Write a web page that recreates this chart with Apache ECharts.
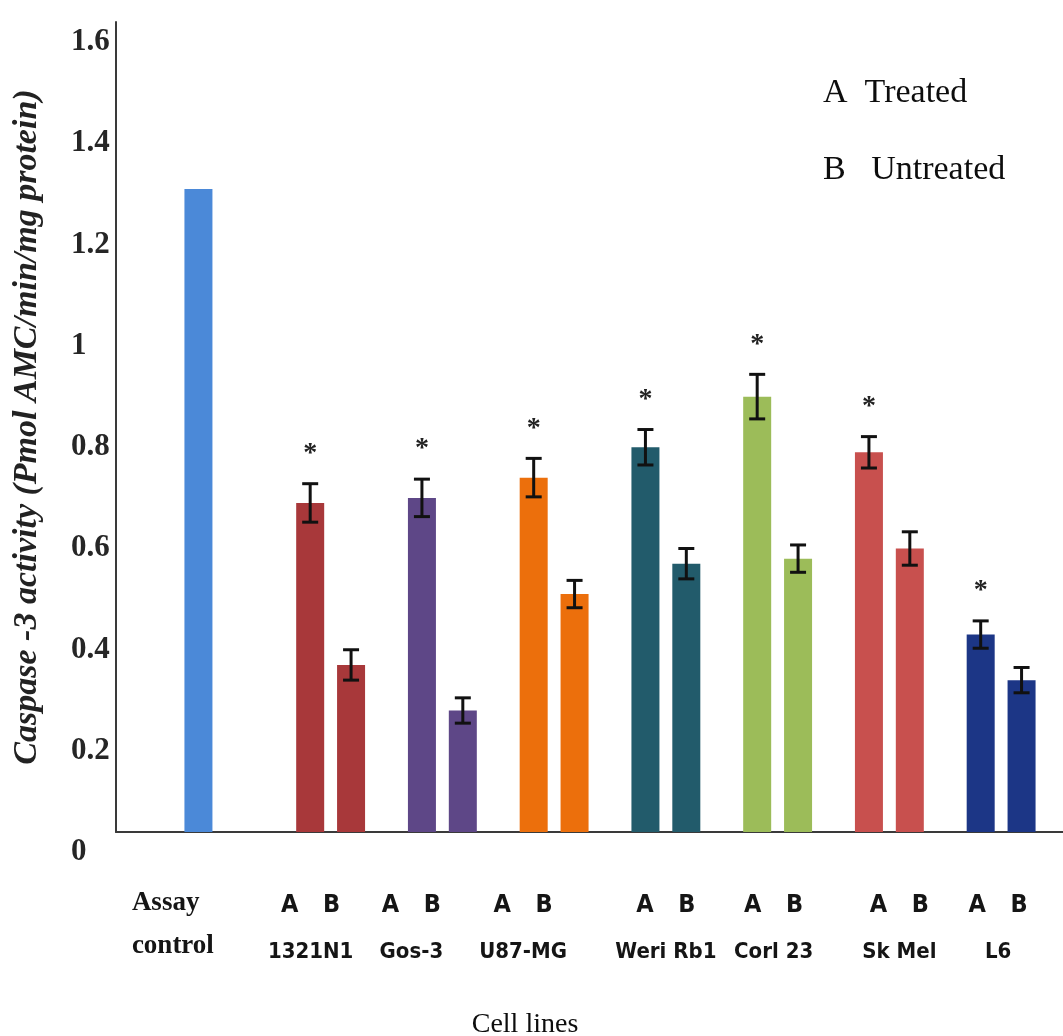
<!DOCTYPE html>
<html>
<head>
<meta charset="utf-8">
<title>Caspase-3 activity by cell line</title>
<script src="https://cdn.jsdelivr.net/npm/echarts@6/dist/echarts.min.js"></script>
<style>
  html, body { margin: 0; padding: 0; background: #ffffff; }
  #chart { width: 1063px; height: 1036px; }
</style>
</head>
<body>
<div id="chart"></div>
<script>
// ---- data ----
const categories = ['Assay control', '1321N1', 'Gos-3', 'U87-MG', 'Weri Rb1', 'Corl 23', 'Sk Mel', 'L6'];
const treated      = [1.27, 0.65, 0.66, 0.70, 0.76, 0.86, 0.75, 0.39];   // A
const treatedErr   = [null, 0.038, 0.037, 0.038, 0.035, 0.044, 0.031, 0.027];
const untreated    = [null, 0.33, 0.24, 0.47, 0.53, 0.54, 0.56, 0.30];   // B
const untreatedErr = [null, 0.030, 0.025, 0.027, 0.030, 0.027, 0.033, 0.025];
const significant  = [false, true, true, true, true, true, true, true];
const groupLetters = ['A', 'B'];
const yMin = 0, yMax = 1.6, yStep = 0.2;
const yTitle = 'Caspase -3 activity (Pmol AMC/min/mg protein)';
const xTitle = 'Cell lines';
const legendLines = ['A  Treated', 'B   Untreated'];

// ---- styling ----
const palette = ['#4b89d8', '#a8383a', '#5e4787', '#ec6f0c', '#225b6b', '#9cbc59', '#c8504e', '#1c3686'];
const BAR_W = 28;
const BAR_GAP = 0.46;
const BAR_OFFSET = BAR_W * (1 + BAR_GAP) / 2;   // centre of A / B bar from category centre
const CAP = 16;
const STAR_GAP = 30;
// horizontal nudge of each category's text block (px)
const labelShift = [-44, -20, -31, -31, 0, -4, 10, -3];

const sans = '"DejaVu Sans Condensed", "Liberation Sans", Arial, sans-serif';
const serif = '"Liberation Serif", "Times New Roman", serif';

const rich = {
  a:  { fontFamily: sans, fontWeight: 'bold', fontSize: 25, color: '#151515', width: 42, align: 'center', lineHeight: 47 },
  nm: { fontFamily: sans, fontWeight: 'bold', fontSize: 22, color: '#151515', lineHeight: 47 },
  ac: { fontFamily: serif, fontWeight: 'bold', fontSize: 27, color: '#151515', width: 86, align: 'left', lineHeight: 43 }
};
labelShift.forEach((s, i) => {
  rich['sp' + i] = { width: Math.max(1, Math.abs(2 * s)), fontSize: 1, lineHeight: 1 };
});

function categoryLabel(value, idx) {
  const s = labelShift[idx];
  const pre = s > 0 ? `{sp${idx}| }` : '';
  const post = s < 0 ? `{sp${idx}| }` : '';
  if (idx === 0) {
    const words = value.split(' ');
    return words.map(w => `{ac|${w}}${post}`).join('\n');
  }
  return pre + `{a|${groupLetters[0]}}{a|${groupLetters[1]}}` + post + '\n' +
         pre + `{nm|${value}}` + post;
}

function barData(values) {
  return values.map((v, i) => v == null ? '-' : { value: v, itemStyle: { color: palette[i] } });
}

function errorBarSeries(means, errs, flags, side) {
  return {
    type: 'custom',
    xAxisIndex: 1, yAxisIndex: 1,
    z: 5,
    silent: true,
    encode: { x: 0, y: 1 },
    data: means.map((m, i) => [i, m, errs[i], flags && flags[i] ? 1 : 0])
               .filter(d => d[1] != null && d[2] != null),
    renderItem(params, api) {
      const i = api.value(0), m = api.value(1), e = api.value(2), sig = api.value(3);
      const x = api.coord([i, m])[0] + side * BAR_OFFSET;
      const yTop = api.coord([i, m + e])[1];
      const yBot = api.coord([i, m - e])[1];
      const st = { stroke: '#111111', lineWidth: 3 };
      const children = [
        { type: 'line', shape: { x1: x, y1: yTop, x2: x, y2: yBot }, style: st },
        { type: 'line', shape: { x1: x - CAP / 2, y1: yTop, x2: x + CAP / 2, y2: yTop }, style: st },
        { type: 'line', shape: { x1: x - CAP / 2, y1: yBot, x2: x + CAP / 2, y2: yBot }, style: st }
      ];
      if (sig) {
        children.push({
          type: 'text', x: x, y: yTop - STAR_GAP,
          style: { text: '*', fontFamily: serif, fontWeight: 'bold', fontSize: 28,
                   fill: '#222222', align: 'center', verticalAlign: 'middle' }
        });
      }
      return { type: 'group', children };
    }
  };
}

const chart = echarts.init(document.getElementById('chart'), null, { renderer: 'canvas' });

chart.setOption({
  backgroundColor: '#ffffff',
  animation: false,
  grid: [
    { left: 116, right: 0, top: 22, bottom: 204 },   // frame: visible axes
    { left: 163, right: 6, top: 22, bottom: 204 }    // bars
  ],
  xAxis: [
    {
      gridIndex: 0, type: 'value', min: 0, max: 1,
      axisLine: { show: true, lineStyle: { color: '#3a3a3a', width: 2 } },
      axisTick: { show: false }, axisLabel: { show: false }, splitLine: { show: false }
    },
    {
      gridIndex: 1, type: 'category', data: categories,
      axisLine: { show: false }, axisTick: { show: false }, splitLine: { show: false },
      axisLabel: { interval: 0, margin: 50, hideOverlap: false, formatter: categoryLabel, rich: rich }
    }
  ],
  yAxis: [
    {
      gridIndex: 0, type: 'value', min: yMin, max: yMax, interval: yStep,
      axisLine: { show: true, lineStyle: { color: '#3a3a3a', width: 2 } },
      axisTick: { show: false }, splitLine: { show: false },
      axisLabel: {
        align: 'left', verticalAlign: 'top', margin: 45,
        fontFamily: serif, fontWeight: 'bold', fontSize: 31, lineHeight: 40, color: '#262626'
      },
      name: yTitle, nameLocation: 'middle', nameRotate: 90, nameGap: 72,
      nameTextStyle: { fontFamily: serif, fontWeight: 'bold', fontStyle: 'italic', fontSize: 34, color: '#222222' }
    },
    {
      gridIndex: 1, type: 'value', min: yMin, max: yMax, interval: yStep, show: false
    }
  ],
  series: [
    { type: 'bar', name: 'Treated', xAxisIndex: 1, yAxisIndex: 1, barWidth: BAR_W,
      barGap: (BAR_GAP * 100) + '%', data: barData(treated) },
    { type: 'bar', name: 'Untreated', xAxisIndex: 1, yAxisIndex: 1, barWidth: BAR_W,
      barGap: (BAR_GAP * 100) + '%', data: barData(untreated) },
    errorBarSeries(treated, treatedErr, significant, -1),
    errorBarSeries(untreated, untreatedErr, null, 1)
  ],
  graphic: [
    { type: 'text', x: 823, y: 93,
      style: { text: legendLines[0], fontFamily: serif, fontSize: 34, fill: '#0d0d0d', align: 'left', verticalAlign: 'middle' } },
    { type: 'text', x: 823, y: 170,
      style: { text: legendLines[1], fontFamily: serif, fontSize: 34, fill: '#0d0d0d', align: 'left', verticalAlign: 'middle' } },
    { type: 'text', x: 525, y: 1025,
      style: { text: xTitle, fontFamily: serif, fontSize: 28, fill: '#0d0d0d', align: 'center', verticalAlign: 'middle' } }
  ]
});
</script>
</body>
</html>
